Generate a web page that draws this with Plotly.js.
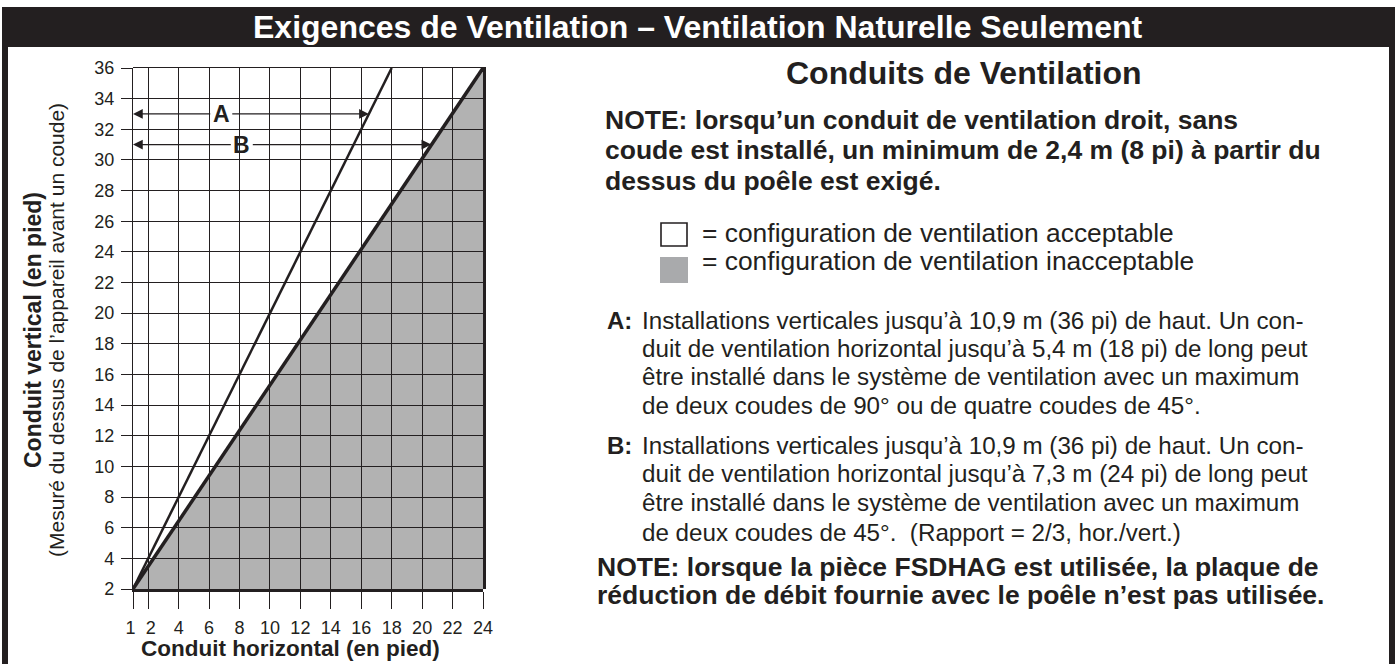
<!DOCTYPE html>
<html>
<head>
<meta charset="utf-8">
<script src="https://cdn.plot.ly/plotly-3.0.1.min.js"></script>
<style>html,body{margin:0;padding:0;background:#fff;}#chart{width:1396px;height:664px;}</style>
</head>
<body>
<div id="chart"></div>
<script>
// ---- data ----
const xTickVals = [1, 2, 4, 6, 8, 10, 12, 14, 16, 18, 20, 22, 24];
const xTickText = ['1\u00a0', '\u00a02', '4', '6', '8', '10', '12', '14', '16', '18', '20', '22', '24'];
const yTickVals = [2, 4, 6, 8, 10, 12, 14, 16, 18, 20, 22, 24, 26, 28, 30, 32, 34, 36];
const lineAx = [1, 18];
const lineAy = [2, 36];
const lineBx = [1, 24];
const lineBy = [2, 36];
const zoneX = [1, 24, 24];
const zoneY = [2, 36, 2];
const arrowLabels = ['A', 'B'];
const arrowY = [33, 31];
const arrowLabelX = [6.8, 8.15];
const arrowStartX = [1, 1];
const arrowEndX = [16.5, 20.6];

const titleText = 'Exigences de Ventilation – Ventilation Naturelle Seulement';
const headingText = 'Conduits de Ventilation';
const note1Lines = [
  'NOTE: lorsqu’un conduit de ventilation droit, sans',
  'coude est installé, un minimum de 2,4 m (8 pi) à partir du',
  'dessus du poêle est exigé.'
];
const legendLines = [
  '= configuration de ventilation acceptable',
  '= configuration de ventilation inacceptable'
];
const aLines = [
  'Installations verticales jusqu’à 10,9 m (36 pi) de haut. Un con-',
  'duit de ventilation horizontal jusqu’à 5,4 m (18 pi) de long peut',
  'être installé dans le système de ventilation avec un maximum',
  'de deux coudes de 90° ou de quatre coudes de 45°.'
];
const bLines = [
  'Installations verticales jusqu’à 10,9 m (36 pi) de haut. Un con-',
  'duit de ventilation horizontal jusqu’à 7,3 m (24 pi) de long peut',
  'être installé dans le système de ventilation avec un maximum',
  'de deux coudes de 45°.\u00a0 (Rapport = 2/3, hor./vert.)'
];
const note2Lines = [
  'NOTE: lorsque la pièce FSDHAG est utilisée, la plaque de',
  'réduction de débit fournie avec le poêle n’est pas utilisée.'
];
const xTitle = 'Conduit horizontal (en pied)';
const yTitleBold = 'Conduit vertical (en pied)';
const yTitleSub = '(Mesuré du dessus de l’appareil avant un coude)';

// ---- layout helpers ----
const W = 1396, H = 664;
const px = v => v / W;
const py = v => 1 - v / H;
const INK = '#231f20';
const FONT = 'Liberation Sans, Arial, Helvetica, sans-serif';
const GRAY = '#b2b2b2';

function txt(text, x, y, size, opts) {
  opts = opts || {};
  return {
    xref: 'paper', yref: 'paper', x: px(x), y: py(y),
    xanchor: opts.xanchor || 'left', yanchor: 'middle',
    text: opts.bold ? '<b>' + text + '</b>' : text,
    showarrow: false, textangle: opts.angle || 0,
    font: {family: FONT, size: size, color: opts.color || INK}
  };
}

const dom = {x: [px(133), px(483)], y: [py(589), py(68)]};

const traces = [
  {type: 'scatter', mode: 'lines', x: zoneX, y: zoneY, fill: 'toself', fillcolor: GRAY,
   line: {width: 0, color: GRAY}, xaxis: 'x', yaxis: 'y', hoverinfo: 'skip'},
  {type: 'scatter', mode: 'lines', x: lineAx, y: lineAy, line: {width: 2.5, color: INK},
   xaxis: 'x2', yaxis: 'y2', hoverinfo: 'skip'},
  {type: 'scatter', mode: 'lines', x: lineBx, y: lineBy, line: {width: 3.5, color: INK},
   xaxis: 'x2', yaxis: 'y2', hoverinfo: 'skip'}
];

const annotations = [];
annotations.push(txt(titleText, 698, 27, 32, {bold: true, color: '#ffffff', xanchor: 'center'}));
annotations.push(txt(headingText, 964, 73, 32, {bold: true, xanchor: 'center'}));
const note1Y = [120, 150, 181];
note1Lines.forEach((t, i) => annotations.push(txt(t, 603, note1Y[i], 26.5, {bold: true})));
const legY = [233, 261];
legendLines.forEach((t, i) => annotations.push(txt(t, 700, legY[i], 26.4)));
annotations.push(txt('A:', 605, 320, 24, {bold: true}));
const aY = [320, 348, 377, 405];
aLines.forEach((t, i) => annotations.push(txt(t, 640, aY[i], 24.2)));
annotations.push(txt('B:', 605, 445, 24, {bold: true}));
const bY = [445, 473, 502, 532];
bLines.forEach((t, i) => annotations.push(txt(t, 640, bY[i], 24.2)));
const n2Y = [567, 595];
note2Lines.forEach((t, i) => annotations.push(txt(t, 595, n2Y[i], 26.5, {bold: true})));
annotations.push(txt(xTitle, 290, 648, 22.5, {bold: true, xanchor: 'center'}));
annotations.push(txt(yTitleBold, 33, 330, 23, {bold: true, xanchor: 'center', angle: -90}));
annotations.push(txt(yTitleSub, 56, 330, 21, {xanchor: 'center', angle: -90}));

arrowLabels.forEach((lab, i) => {
  const base = {
    xref: 'x2', yref: 'y2', axref: 'x2', ayref: 'y2',
    y: arrowY[i], ax: arrowLabelX[i], ay: arrowY[i],
    text: '<b>' + lab + '</b>', showarrow: true, arrowhead: 2, arrowsize: 1.5,
    arrowwidth: 1.3, arrowcolor: INK, borderpad: 2,
    font: {family: FONT, size: 23, color: INK}
  };
  annotations.push(Object.assign({}, base, {x: arrowStartX[i]}));
  annotations.push(Object.assign({}, base, {x: arrowEndX[i], font: {family: FONT, size: 23, color: 'rgba(0,0,0,0)'}}));
});

const shapes = [
  {type: 'rect', xref: 'paper', yref: 'paper', x0: px(2), x1: px(1395), y0: py(47), y1: py(7),
   fillcolor: INK, line: {width: 0}, layer: 'below'},
  {type: 'rect', xref: 'paper', yref: 'paper', x0: px(2), x1: px(8), y0: py(664), y1: py(46),
   fillcolor: INK, line: {width: 0}, layer: 'below'},
  {type: 'rect', xref: 'paper', yref: 'paper', x0: px(1389), x1: px(1395), y0: py(664), y1: py(46),
   fillcolor: INK, line: {width: 0}, layer: 'below'},
  // legend swatches
  {type: 'rect', xref: 'paper', yref: 'paper', x0: px(661), x1: px(687), y0: py(246), y1: py(223),
   fillcolor: '#ffffff', line: {width: 1.6, color: INK}},
  {type: 'rect', xref: 'paper', yref: 'paper', x0: px(660), x1: px(688), y0: py(283), y1: py(257),
   fillcolor: '#a9aaac', line: {width: 0}}
];

const tickFont = {family: FONT, size: 18, color: INK};
const layout = {
  width: W, height: H, margin: {l: 0, r: 0, t: 0, b: 0}, autosize: false,
  paper_bgcolor: '#ffffff', plot_bgcolor: 'rgba(0,0,0,0)', showlegend: false,
  xaxis: {domain: dom.x, range: [1, 24], anchor: 'y', side: 'top', showgrid: false, zeroline: false,
          showline: true, linewidth: 1, linecolor: INK, ticks: '', showticklabels: false, fixedrange: true},
  yaxis: {domain: dom.y, range: [2, 36], anchor: 'x', side: 'right', showgrid: false, zeroline: false,
          showline: true, linewidth: 3, linecolor: INK, ticks: '', showticklabels: false, fixedrange: true},
  xaxis2: {domain: dom.x, range: [1, 24], anchor: 'y2', side: 'bottom', tickmode: 'array',
           tickvals: xTickVals, ticktext: xTickText, tickangle: 0, showgrid: true, gridcolor: INK, gridwidth: 1,
           zeroline: false, showline: true, linewidth: 3, linecolor: INK, ticks: 'outside', ticklen: 17,
           tickwidth: 1, tickcolor: INK, tickfont: tickFont, ticklabelstandoff: 3, fixedrange: true},
  yaxis2: {domain: dom.y, range: [2, 36], anchor: 'x2', side: 'left', tickmode: 'array',
           tickvals: yTickVals, showgrid: true, gridcolor: INK, gridwidth: 1,
           zeroline: false, showline: true, linewidth: 1.2, linecolor: INK, ticks: 'outside', ticklen: 11,
           tickwidth: 1, tickcolor: INK, tickfont: tickFont, ticklabelstandoff: 3, fixedrange: true},
  annotations: annotations,
  shapes: shapes
};

Plotly.newPlot('chart', traces, layout, {displayModeBar: false, staticPlot: true});
</script>
</body>
</html>
